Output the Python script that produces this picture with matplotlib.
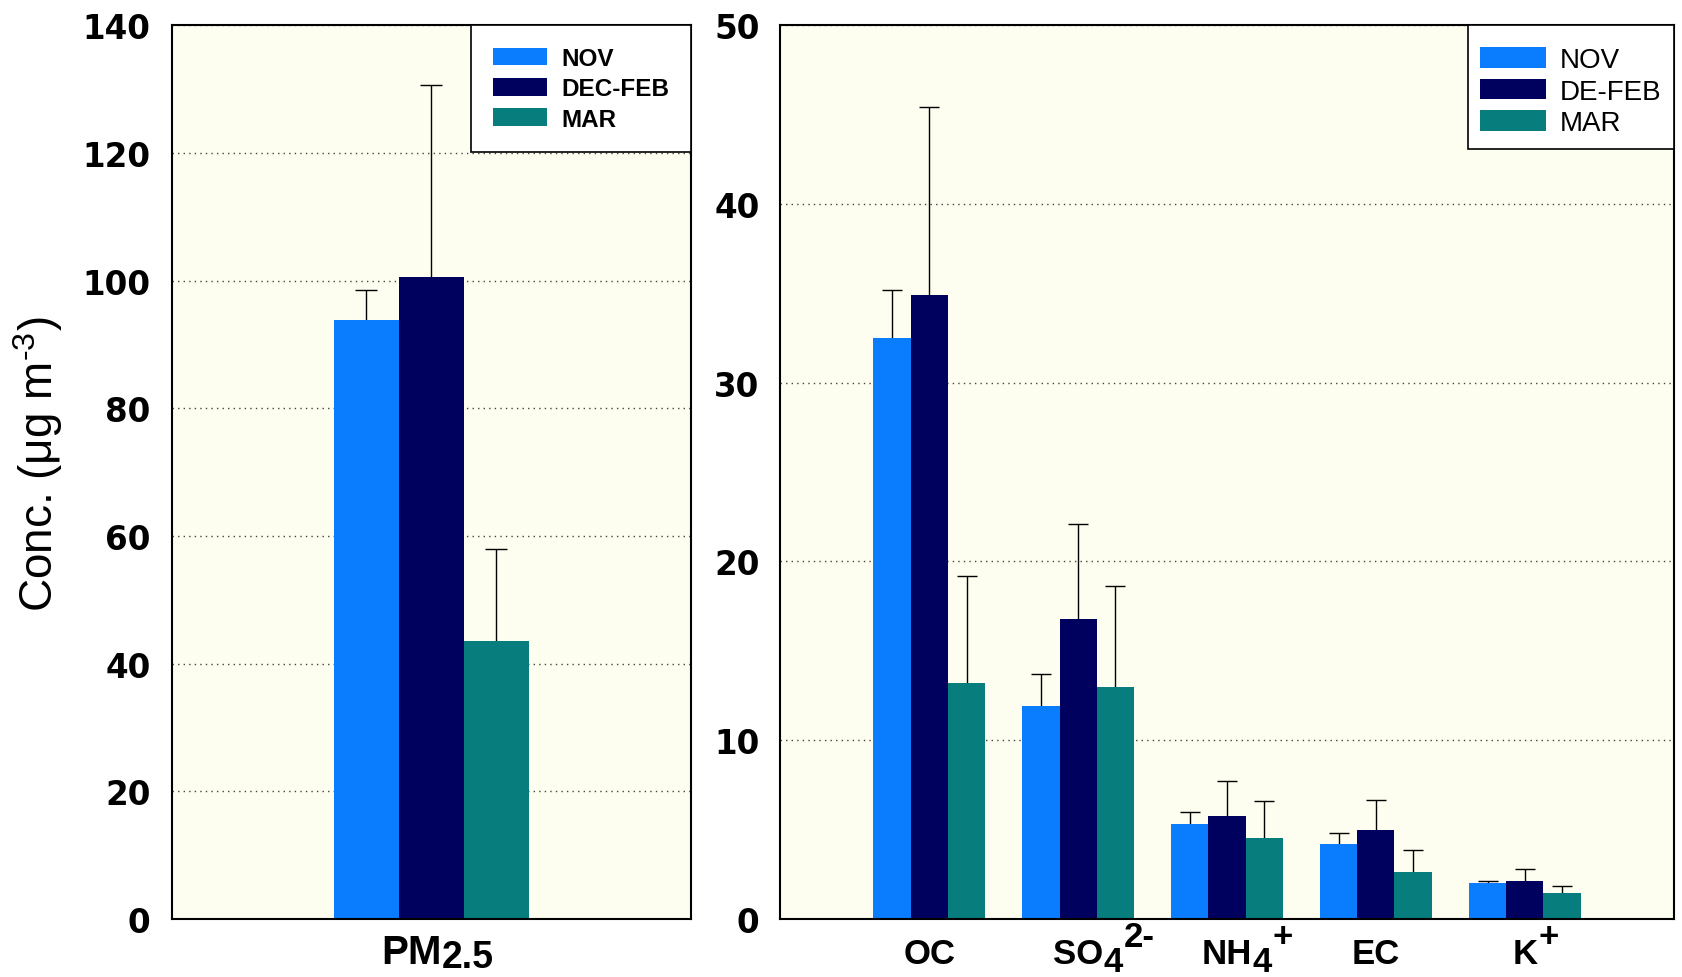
import matplotlib
matplotlib.use("Agg")
import matplotlib.pyplot as plt
import numpy as np

plt.rcParams["mathtext.fontset"] = "custom"
plt.rcParams["mathtext.rm"] = "Liberation Sans"
plt.rcParams["mathtext.it"] = "Liberation Sans"

seasons_left = ["NOV", "DEC-FEB", "MAR"]
seasons_right = ["NOV", "DE-FEB", "MAR"]
colors = ["#0a7dff", "#00005e", "#077d7e"]

# PM2.5 panel
pm_base = ["PM"]
pm_sub = ["2.5"]
pm_sup = [""]
pm_mean = [93.8, 100.6, 43.5]
pm_err = [4.7, 30.0, 14.4]

# species panel
sp_base = ["OC", "SO", "NH", "EC", "K"]
sp_sub = ["", "4", "4", "", ""]
sp_sup = ["", "2-", "+", "", "+"]
nov_mean = [32.5, 11.9, 5.3, 4.2, 2.0]
nov_err = [2.7, 1.8, 0.7, 0.6, 0.15]
dec_mean = [34.9, 16.8, 5.75, 5.0, 2.15]
dec_err = [10.5, 5.3, 1.95, 1.65, 0.65]
mar_mean = [13.2, 12.95, 4.55, 2.65, 1.45]
mar_err = [6.0, 5.65, 2.05, 1.2, 0.4]

bg = "#fdfdf0"
width = 0.25
FONT = "Liberation Sans"

fig = plt.figure(figsize=(16.82, 9.78), dpi=100)
ax1 = fig.add_axes([0.102, 0.0593, 0.309, 0.914])
ax2 = fig.add_axes([0.464, 0.0593, 0.531, 0.914])


def style_axis(ax, ymax, step):
    ax.set_facecolor(bg)
    ax.set_ylim(0, ymax)
    ax.set_yticks(np.arange(0, ymax + 1, step))
    ax.yaxis.grid(True, linestyle=(0, (1, 3)), color="#444444", linewidth=1.0)
    ax.set_axisbelow(True)
    for s in ax.spines.values():
        s.set_linewidth(1.5)
        s.set_color("black")
    ax.tick_params(axis="both", length=0)
    ax.tick_params(axis="y", pad=15)
    for lab in ax.get_yticklabels():
        lab.set_fontfamily("DejaVu Sans")
        lab.set_fontweight("bold")
        lab.set_fontsize(23.5)


def draw_labels(ax, xs, bases, subs, sups, size, sub_size, drop=6, rise=12, shift=0, top=-13):
    # category names with full-size sub/superscripts, chained left to right
    ax.set_xticks(xs)
    ax.set_xticklabels([])
    kw = dict(fontsize=size, fontweight="bold", family=FONT, annotation_clip=False)
    for x, b, sb, sp in zip(xs, bases, subs, sups):
        base = ax.annotate(b, xy=(x, 0), xycoords=ax.get_xaxis_transform(), xytext=(shift, top),
                           textcoords="offset points", ha="center", va="top", **kw)
        last, dy = base, rise
        if sb:
            kw_sub = dict(kw, fontsize=sub_size)
            last = ax.annotate(sb, xy=(1, 0), xycoords=base, xytext=(0, -drop),
                               textcoords="offset points", ha="left", va="bottom", **kw_sub)
            dy = rise + drop
        if sp:
            ax.annotate(sp, xy=(1, 0), xycoords=last, xytext=(1, dy),
                        textcoords="offset points", ha="left", va="bottom", **kw)


def make_legend(ax, size, weight, spacing, pad, title_size=None, textpad=0.6, hlen=2.2):
    leg = ax.legend(loc="upper right", borderaxespad=0, fancybox=False, framealpha=1,
                    edgecolor="black", prop={"family": FONT, "weight": weight, "size": size},
                    handlelength=hlen, handleheight=0.75, borderpad=pad, labelspacing=spacing,
                    handletextpad=textpad,
                    title=" " if title_size else None, title_fontsize=title_size)
    leg.get_frame().set_linewidth(1.2)
    return leg


# left panel
x1 = np.arange(len(pm_base))
for i, (name, col) in enumerate(zip(seasons_left, colors)):
    xs = x1 + (i - 1) * width
    ax1.bar(xs, [pm_mean[i]], width, color=col, label=name, zorder=2)
    ax1.errorbar(xs, [pm_mean[i]], yerr=[pm_err[i]], fmt="none",
                 ecolor="black", elinewidth=1.0, capsize=8, capthick=1.0, zorder=1.5)
ax1.set_xlim(-1, 1)
style_axis(ax1, 140, 20)
draw_labels(ax1, x1, pm_base, pm_sub, pm_sup, 29, 27, drop=3, shift=-14, top=-10)
ax1.set_ylabel("Conc. (\u03bcg m$^{\\text{-}3}$)", fontsize=33, fontfamily=FONT)
ax1.yaxis.set_label_coords(-0.205, 0.51)
make_legend(ax1, 17.5, "bold", 0.3, 0.9)

# right panel
x2 = np.arange(len(sp_base))
groups = [(nov_mean, nov_err), (dec_mean, dec_err), (mar_mean, mar_err)]
for i, ((m, e), name, col) in enumerate(zip(groups, seasons_right, colors)):
    xs = x2 + (i - 1) * width
    ax2.bar(xs, m, width, color=col, label=name, zorder=2)
    ax2.errorbar(xs, m, yerr=e, fmt="none", ecolor="black",
                 elinewidth=1.0, capsize=7, capthick=1.0, zorder=1.5)
ax2.set_xlim(-1, 5)
style_axis(ax2, 50, 10)
draw_labels(ax2, x2, sp_base, sp_sub, sp_sup, 25, 25)
make_legend(ax2, 20, "normal", 0.2, 0.45, title_size=3, textpad=0.5, hlen=2.35)

fig.savefig("out.png", dpi=100, facecolor="white")
